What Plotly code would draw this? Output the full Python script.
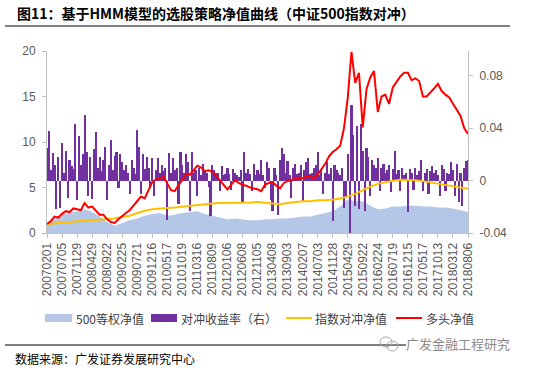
import numpy as np
import plotly.graph_objects as go

tick_labels = ["20070201", "20070705", "20071129", "20080429", "20080922", "20090225",
               "20090721", "20091216", "20100517", "20101019", "20110316", "20110809",
               "20120106", "20120608", "20121105", "20130408", "20130903", "20140207",
               "20140703", "20141128", "20150429", "20150922", "20160224", "20160719",
               "20161215", "20170517", "20171013", "20180312", "20180806"]

# 多头净值 (left axis), 4 samples per tick interval
long_nav = [1.0, 1.3, 1.8, 1.7, 2.1, 2.4, 2.3, 2.7, 2.6, 2.5,
            3.3, 2.8, 2.9, 2.4, 2.0, 2.0, 1.5, 1.2, 1.1, 1.5,
            1.9, 2.2, 2.5, 3.0, 3.5, 4.0, 3.8, 4.8, 5.6, 5.9,
            6.0, 6.2, 5.4, 4.7, 4.6, 5.3, 5.8, 6.5, 6.4, 6.9,
            7.4, 7.2, 6.8, 6.9, 6.7, 6.3, 5.8, 5.2, 4.8, 5.3,
            5.8, 5.5, 5.3, 5.2, 5.0, 4.9, 4.8, 4.6, 5.3, 5.5,
            5.6, 5.2, 4.9, 5.5, 5.7, 5.8, 6.0, 6.1, 6.0, 6.2,
            6.2, 6.0, 6.4, 7.0, 7.6, 8.4, 8.9, 9.2, 9.6, 11.5,
            14.8, 19.9, 16.5, 17.6, 11.6, 15.8, 17.1, 17.8, 13.3, 15.0,
            15.2, 14.2, 16.0, 16.6, 17.2, 17.6, 17.6, 16.8, 17.0, 16.7,
            15.0, 15.0, 15.4, 15.9, 16.4, 15.6, 15.2, 14.9, 14.2, 13.6,
            12.9, 11.5, 10.9]

# 500等权净值 (left axis), 2 samples per tick interval
eq500_nav = [1.0, 1.6, 2.0, 2.2, 2.4, 2.6, 2.3, 1.8, 1.2, 0.8,
             1.1, 1.4, 1.6, 1.9, 2.1, 2.2, 1.9, 2.0, 2.2, 2.3,
             2.4, 2.1, 1.9, 1.7, 1.5, 1.6, 1.5, 1.4, 1.4, 1.5,
             1.5, 1.6, 1.6, 1.7, 1.8, 1.8, 2.0, 2.2, 2.4, 2.9,
             3.7, 3.5, 3.5, 3.0, 2.6, 2.7, 2.9, 2.9, 3.0, 3.0,
             2.9, 2.9, 2.8, 2.8, 2.7, 2.5, 2.3]

# 指数对冲净值 (left axis), 2 samples per tick interval
index_hedge_nav = [1.0, 1.05, 1.1, 1.2, 1.3, 1.35, 1.4, 1.5, 1.55, 1.6,
                   1.75, 1.9, 2.2, 2.45, 2.6, 2.7, 2.75, 2.8, 2.9, 2.95,
                   3.1, 3.2, 3.25, 3.3, 3.3, 3.35, 3.3, 3.35, 3.4, 3.3,
                   3.2, 3.15, 3.3, 3.4, 3.5, 3.5, 3.6, 3.6, 3.65, 3.8,
                   4.0, 4.3, 4.7, 5.1, 5.4, 5.6, 5.75, 5.85, 5.85, 5.8,
                   5.7, 5.55, 5.4, 5.3, 5.15, 5.0, 4.85]

# 对冲收益率（右）, 8 samples per tick interval
hedge_ret = [0.025, 0.038, 0.008, 0.021, 0.012, -0.022, 0.018, -0.021,
             0.029, 0.006, 0.023, -0.013, 0.016, 0.011, 0.009, 0.043,
             -0.015, 0.034, 0.012, 0.020, 0.050, 0.022, -0.012, 0.018,
             -0.014, 0.024, 0.037, 0.010, 0.018, 0.007, 0.016, 0.026,
             -0.015, 0.012, 0.031, 0.008, 0.019, 0.022, -0.006, 0.020,
             0.014, 0.008, 0.012, 0.006, -0.010, 0.016, 0.010, 0.005,
             0.039, 0.026, -0.010, 0.020, 0.009, 0.018, 0.010, -0.006,
             0.017, -0.012, 0.008, 0.017, 0.006, 0.012, 0.007, 0.010,
             -0.030, 0.021, 0.006, 0.017, 0.008, 0.010, -0.018, 0.022,
             0.012, 0.006, 0.020, 0.014, -0.023, 0.022, 0.006, 0.008,
             -0.012, 0.010, 0.004, 0.013, 0.007, 0.006, -0.005, -0.027,
             0.012, 0.008, 0.006, 0.006, -0.008, 0.011, 0.004, 0.005,
             0.010, 0.005, -0.007, 0.009, 0.006, 0.004, 0.003, 0.008,
             -0.016, 0.022, 0.006, 0.009, 0.005, -0.008, 0.013, 0.004,
             0.008, 0.005, 0.016, 0.004, -0.006, 0.014, 0.010, -0.015,
             -0.023, 0.010, 0.004, -0.026, 0.016, 0.025, 0.020, 0.006,
             0.015, 0.004, -0.013, 0.010, 0.013, 0.005, 0.006, 0.012,
             -0.016, 0.008, 0.014, 0.017, 0.005, 0.006, 0.010, 0.012,
             0.022, 0.004, 0.008, -0.010, 0.006, 0.014, 0.005, 0.010,
             -0.031, 0.012, 0.008, 0.006, 0.004, 0.010, -0.021, -0.012,
             0.020, -0.040, 0.058, 0.035, -0.019, 0.042, -0.022, 0.043,
             0.023, -0.023, 0.025, 0.018, -0.012, 0.016, 0.012, 0.010,
             0.017, -0.008, 0.010, 0.013, 0.006, 0.008, 0.012, -0.009,
             0.009, 0.023, 0.005, 0.008, -0.008, 0.010, 0.004, 0.006,
             -0.024, 0.009, 0.006, -0.007, 0.010, 0.004, 0.007, 0.016,
             -0.008, 0.006, 0.009, -0.010, 0.007, 0.011, 0.006, 0.008,
             0.004, -0.012, 0.012, 0.009, -0.008, 0.006, 0.005, 0.014,
             0.008, -0.012, 0.013, -0.016, 0.006, -0.019, 0.010, 0.015,
             0.016]

legend_names = ["500等权净值", "对冲收益率（右）", "指数对冲净值", "多头净值"]
title_text = "图11：基于HMM模型的选股策略净值曲线（中证500指数对冲）"
source_text = "数据来源：广发证券发展研究中心"
watermark_text = "广发金融工程研究"

C_AREA = "#B4C7E7"
C_BAR = "#7030A0"
C_YEL = "#FFC000"
C_RED = "#FF0000"
AX = "#BFBFBF"
TXT = "#595959"

n_ticks = len(tick_labels) - 1
x_long = np.linspace(0, n_ticks, len(long_nav))
x_eq = np.linspace(0, n_ticks, len(eq500_nav))
x_idx = np.linspace(0, n_ticks, len(index_hedge_nav))
x_bar = np.linspace(0, n_ticks, len(hedge_ret))

fig = go.Figure()
fig.add_trace(go.Scatter(x=x_eq, y=eq500_nav, mode="lines", fill="tozeroy",
                         line=dict(width=0, color=C_AREA), fillcolor=C_AREA,
                         name=legend_names[0], yaxis="y", showlegend=False))
fig.add_trace(go.Bar(x=x_bar, y=hedge_ret, marker=dict(color=C_BAR, line=dict(width=0)),
                     width=1.15 * n_ticks / (len(hedge_ret) - 1), name=legend_names[1],
                     yaxis="y2", showlegend=False))
fig.add_trace(go.Scatter(x=x_idx, y=index_hedge_nav, mode="lines",
                         line=dict(width=2, color=C_YEL), name=legend_names[2],
                         yaxis="y3", showlegend=False))
fig.add_trace(go.Scatter(x=x_long, y=long_nav, mode="lines",
                         line=dict(width=2, color=C_RED), name=legend_names[3],
                         yaxis="y3", showlegend=False))

W, H = 539, 372
L, R, T, B = 47, 468, 51, 233


def fx(px):
    return (px - L) / (R - L)


def fy(py):
    return (B - py) / (B - T)


tickfont = dict(family="Liberation Sans, Arial", size=12, color=TXT)

fig.update_layout(
    width=W, height=H,
    margin=dict(l=L, r=W - R, t=T, b=H - B, pad=0),
    paper_bgcolor="white", plot_bgcolor="white",
    bargap=0,
    xaxis=dict(range=[0, n_ticks], tickmode="array", tickvals=list(range(len(tick_labels))),
               ticktext=tick_labels, tickangle=-90, ticks="outside", ticklen=4,
               tickcolor=AX, showline=True, linecolor=AX, linewidth=1,
               showgrid=False, zeroline=False, tickfont=tickfont),
    yaxis=dict(range=[0, 20], tickmode="array", tickvals=[0, 5, 10, 15, 20],
               ticks="outside", ticklen=4, tickcolor=AX, showline=True, linecolor=AX,
               showgrid=False, zeroline=False, tickfont=tickfont, ticklabelstandoff=4),
    yaxis2=dict(range=[-0.04, 0.099], overlaying="y", side="right", anchor="x",
                tickmode="array", tickvals=[-0.04, 0, 0.04, 0.08],
                ticktext=["-0.04", "0", "0.04", "0.08"],
                ticks="outside", ticklen=4, tickcolor=AX, showline=True, linecolor=AX,
                showgrid=False, zeroline=False, tickfont=tickfont, ticklabelstandoff=4),
    yaxis3=dict(range=[0, 20], overlaying="y", visible=False, showgrid=False, zeroline=False),
    showlegend=False,
)

shapes = []
annotations = []
# title + underline
annotations.append(dict(x=fx(15), y=fy(13), xref="paper", yref="paper", text="<b>" + title_text + "</b>",
                        showarrow=False, xanchor="left", yanchor="middle",
                        font=dict(family="Noto Sans CJK SC", size=14, color="#000000")))
shapes.append(dict(type="line", xref="paper", yref="paper", x0=fx(5), x1=fx(510), y0=fy(26), y1=fy(26),
                   line=dict(color="#000000", width=1)))

# legend
ly = 318
leg_font = dict(family="Noto Sans CJK SC", size=12, color="#404040")
shapes.append(dict(type="rect", xref="paper", yref="paper", x0=fx(45), x1=fx(72), y0=fy(322), y1=fy(314),
                   fillcolor=C_AREA, line=dict(width=0)))
annotations.append(dict(x=fx(74), y=fy(ly), xref="paper", yref="paper", text=legend_names[0],
                        showarrow=False, xanchor="left", yanchor="middle", font=leg_font))
shapes.append(dict(type="rect", xref="paper", yref="paper", x0=fx(151), x1=fx(177), y0=fy(322), y1=fy(314),
                   fillcolor=C_BAR, line=dict(width=0)))
annotations.append(dict(x=fx(179), y=fy(ly), xref="paper", yref="paper", text=legend_names[1],
                        showarrow=False, xanchor="left", yanchor="middle", font=leg_font))
shapes.append(dict(type="line", xref="paper", yref="paper", x0=fx(286), x1=fx(312), y0=fy(ly), y1=fy(ly),
                   line=dict(color=C_YEL, width=2)))
annotations.append(dict(x=fx(313), y=fy(ly), xref="paper", yref="paper", text=legend_names[2],
                        showarrow=False, xanchor="left", yanchor="middle", font=leg_font))
shapes.append(dict(type="line", xref="paper", yref="paper", x0=fx(396), x1=fx(422), y0=fy(ly), y1=fy(ly),
                   line=dict(color=C_RED, width=2)))
annotations.append(dict(x=fx(424), y=fy(ly), xref="paper", yref="paper", text=legend_names[3],
                        showarrow=False, xanchor="left", yanchor="middle", font=leg_font))

# footer
shapes.append(dict(type="line", xref="paper", yref="paper", x0=fx(5), x1=fx(406), y0=fy(345), y1=fy(345),
                   line=dict(color="#000000", width=1)))
annotations.append(dict(x=fx(13), y=fy(358), xref="paper", yref="paper", text=source_text,
                        showarrow=False, xanchor="left", yanchor="middle",
                        font=dict(family="Noto Sans CJK SC", size=12, color="#000000")))
annotations.append(dict(x=fx(404), y=fy(343), xref="paper", yref="paper", text=watermark_text,
                        showarrow=False, xanchor="left", yanchor="middle",
                        font=dict(family="Noto Sans CJK SC", size=13, color="#8C8C8C")))
shapes.append(dict(type="circle", xref="paper", yref="paper", x0=fx(380), x1=fx(392), y0=fy(347), y1=fy(337),
                   line=dict(color="#A6A6A6", width=1)))
shapes.append(dict(type="circle", xref="paper", yref="paper", x0=fx(387), x1=fx(398), y0=fy(351), y1=fy(341),
                   line=dict(color="#A6A6A6", width=1)))

fig.update_layout(shapes=shapes, annotations=annotations)
fig.write_html("out.html", config={"displayModeBar": False},
               post_script="document.body.style.margin='0';")
